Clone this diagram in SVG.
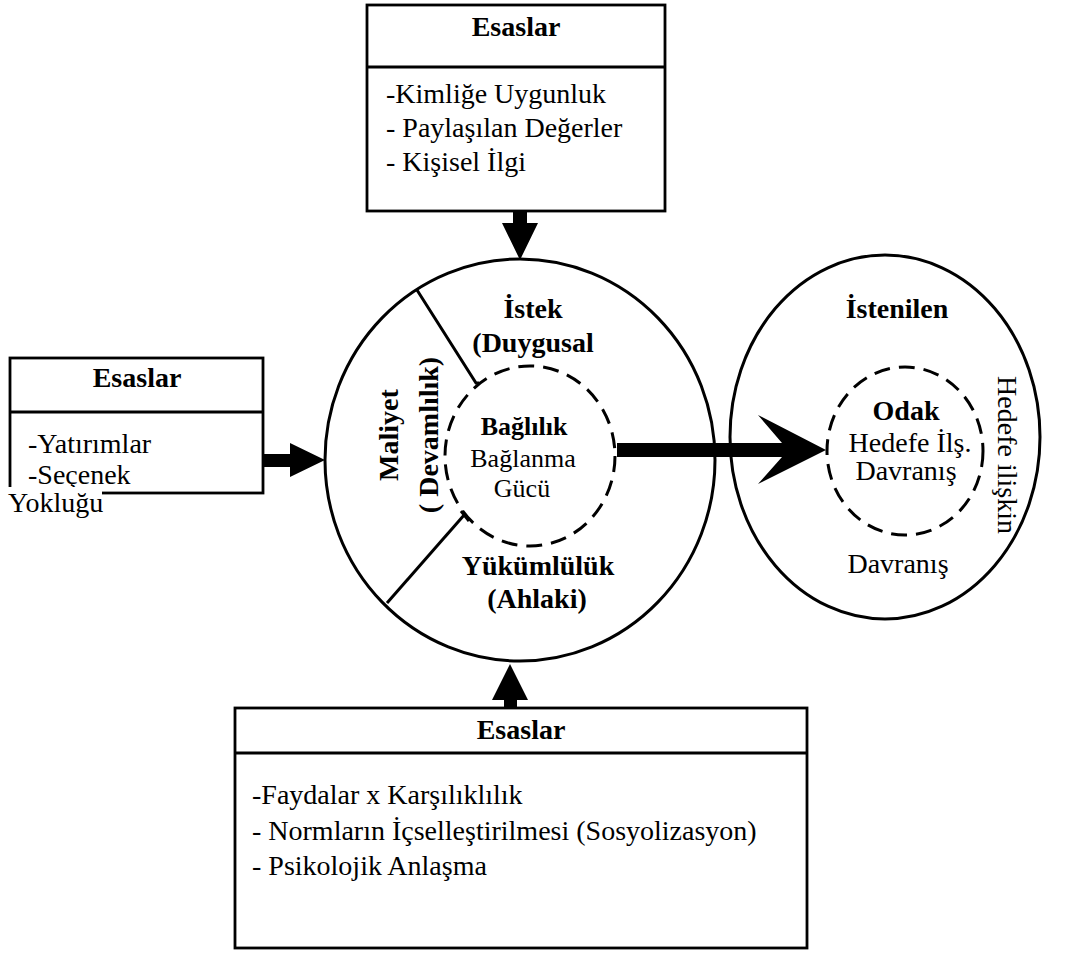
<svg xmlns="http://www.w3.org/2000/svg" width="1072" height="953" viewBox="0 0 1072 953">
  <style>
    .box { fill: #fff; stroke: #000; stroke-width: 2.8; }
    .sep { stroke: #000; stroke-width: 2.8; }
    .ring { fill: #fff; stroke: #000; stroke-width: 3; }
    .dash { fill: none; stroke: #000; stroke-width: 3; stroke-dasharray: 16 9; }
    .wall { fill: none; stroke: #000; stroke-width: 3; }
    .mask { fill: #fff; stroke: none; }
    text { font-family: "Liberation Serif", "Times New Roman", serif; font-size: 28px; fill: #000; }
    .b { font-weight: bold; }
    .c { text-anchor: middle; }
    .arrow { fill: #000; stroke: none; }
  </style>

  <!-- Basis box: identification -->
  <g id="box-top">
    <rect class="box" x="367" y="5" width="298" height="206"/>
    <line class="sep" x1="367" y1="67" x2="665" y2="67"/>
    <text class="b c" x="516" y="36">Esaslar</text>
    <text x="386" y="103">-Kimliğe Uygunluk</text>
    <text x="386" y="137">- Paylaşılan Değerler</text>
    <text x="386" y="171">- Kişisel İlgi</text>
  </g>

  <!-- Basis box: cost -->
  <g id="box-left">
    <rect class="box" x="10" y="358" width="253" height="135"/>
    <line class="sep" x1="10" y1="412" x2="263" y2="412"/>
    <text class="b c" x="137" y="387">Esaslar</text>
    <text x="28" y="453">-Yatırımlar</text>
    <text x="28" y="484">-Seçenek</text>
    <!-- last line spills over the frame on an opaque backing -->
    <rect class="mask" x="6" y="487" width="96" height="32"/>
    <text x="8" y="512">Yokluğu</text>
  </g>

  <!-- Basis box: obligation -->
  <g id="box-bottom">
    <rect class="box" x="235" y="708" width="572" height="240"/>
    <line class="sep" x1="235" y1="753" x2="807" y2="753"/>
    <text class="b c" x="521" y="739">Esaslar</text>
    <text x="252" y="804">-Faydalar x Karşılıklılık</text>
    <text x="252" y="840">- Normların İçselleştirilmesi (Sosyolizasyon)</text>
    <text x="252" y="875">- Psikolojik Anlaşma</text>
  </g>

  <!-- Commitment circle with three sectors -->
  <g id="commitment">
    <ellipse class="ring" cx="520" cy="460" rx="195" ry="201"/>
    <polyline class="wall" points="417,290 476,383 479,383"/>
    <polyline class="wall" points="387,603 465,514"/>
    <line class="wall" x1="461" y1="511" x2="469" y2="521"/>
    <ellipse class="dash" cx="530" cy="456" rx="85" ry="90"/>
    <text class="b c" x="533" y="318">İstek</text>
    <text class="b c" x="533" y="352">(Duygusal</text>
    <text class="b c" x="398" y="435" transform="rotate(-90 398 435)">Maliyet</text>
    <text class="b c" x="438" y="435" transform="rotate(-90 438 435)">( Devamlılık)</text>
    <text class="b c" x="524" y="435" style="font-size:26px">Bağlılık</text>
    <text class="c" x="523" y="467" style="font-size:26px">Bağlanma</text>
    <text class="c" x="522" y="497" style="font-size:26px">Gücü</text>
    <text class="b c" x="538" y="575">Yükümlülük</text>
    <text class="b c" x="537" y="608">(Ahlaki)</text>
  </g>

  <!-- Target behaviour circle -->
  <g id="behaviour">
    <ellipse class="ring" cx="885" cy="437" rx="155" ry="182"/>
    <ellipse class="dash" cx="905" cy="451" rx="78" ry="84"/>
    <text class="b c" x="897" y="318">İstenilen</text>
    <text class="b c" x="906" y="420">Odak</text>
    <text class="c" x="910" y="452">Hedefe İlş.</text>
    <text class="c" x="906" y="480">Davranış</text>
    <text class="c" x="898" y="573">Davranış</text>
    <text class="c" x="998" y="455" transform="rotate(90 998 455)">Hedefe ilişkin</text>
  </g>

  <!-- Connectors -->
  <g id="connectors">
    <!-- top box to circle -->
    <polygon class="arrow" points="513,211 527,211 527,223 538,223 520,260 502,223 513,223"/>
    <!-- left box to circle -->
    <polygon class="arrow" points="263,454 290,454 290,443 325,460 290,477 290,467 263,467"/>
    <!-- bottom box to circle -->
    <polygon class="arrow" points="504,708 517,708 517,700 528,700 510,664 492,700 504,700"/>
    <!-- commitment to target behaviour -->
    <polygon class="arrow" points="617,443 782,443 758,415 826,450 758,484 782,457 617,457"/>
  </g>
</svg>
